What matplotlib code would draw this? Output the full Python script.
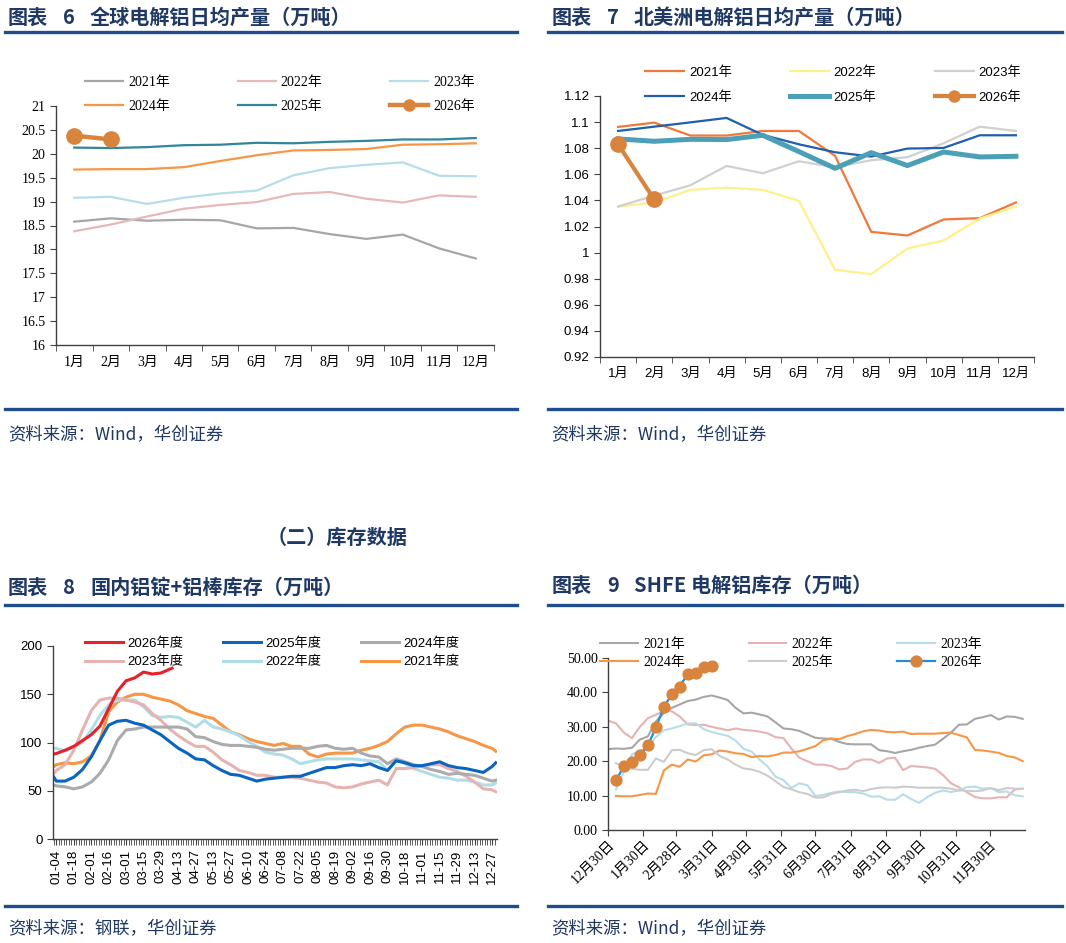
import matplotlib
matplotlib.use("Agg")
import matplotlib.pyplot as plt
from matplotlib.lines import Line2D
from matplotlib.ticker import FuncFormatter, FixedLocator
import numpy as np

# ---------------- data ----------------
months = ["1月", "2月", "3月", "4月", "5月", "6月", "7月", "8月", "9月", "10月", "11月", "12月"]

# Fig 6: global daily primary aluminium output (10k t)
g2021 = [18.58, 18.65, 18.60, 18.62, 18.61, 18.44, 18.45, 18.32, 18.22, 18.31, 18.02, 17.81]
g2022 = [18.38, 18.52, 18.69, 18.85, 18.93, 18.99, 19.16, 19.20, 19.06, 18.98, 19.13, 19.10]
g2023 = [19.08, 19.10, 18.95, 19.08, 19.17, 19.23, 19.55, 19.70, 19.77, 19.82, 19.54, 19.53]
g2024 = [19.67, 19.68, 19.68, 19.72, 19.85, 19.97, 20.07, 20.08, 20.10, 20.19, 20.20, 20.22]
g2025 = [20.13, 20.12, 20.14, 20.18, 20.19, 20.23, 20.22, 20.25, 20.27, 20.30, 20.30, 20.33]
g2026 = [20.38, 20.30]

# Fig 7: North America daily output (10k t)
n2021 = [1.0963, 1.0996, 1.0897, 1.0897, 1.0932, 1.0932, 1.0741, 1.0159, 1.0131, 1.0254, 1.0264, 1.0384]
n2022 = [1.0353, 1.0384, 1.0481, 1.0498, 1.0481, 1.0396, 0.9868, 0.9835, 1.0032, 1.0093, 1.0261, 1.0353]
n2023 = [1.0353, 1.0437, 1.0516, 1.0664, 1.0608, 1.0700, 1.0654, 1.0708, 1.0731, 1.0838, 1.0965, 1.0932]
n2024 = [1.0932, 1.0965, 1.0998, 1.1032, 1.0902, 1.0830, 1.0769, 1.0736, 1.0797, 1.0802, 1.0899, 1.0899]
n2025 = [1.0871, 1.0853, 1.0868, 1.0866, 1.0899, 1.0774, 1.0646, 1.0766, 1.0667, 1.0771, 1.0733, 1.0738]
n2026 = [1.0830, 1.0407]

# Fig 8: domestic ingot + billet inventory (10k t); x = days after 01-04
d8_labels = ["01-04", "01-18", "02-01", "02-16", "03-01", "03-15", "03-29", "04-13", "04-27",
             "05-13", "05-27", "06-10", "06-24", "07-08", "07-22", "08-05", "08-19", "09-02",
             "09-16", "09-30", "10-18", "11-01", "11-15", "11-29", "12-13", "12-27"]
d8_days = [-2] + list(range(0, 351, 7)) + [353]
d8_days_2026 = [-2] + list(range(0, 92, 7)) + [93]
i2026 = [88, 88.6, 92, 96, 102, 108, 117, 135, 153, 164, 167, 173, 171, 172, 176, 177]
i2025 = [64, 60, 60, 64, 72, 85, 102, 118, 122, 123, 120, 118,
         113, 108, 101, 94, 89, 83, 82, 76, 71, 67,
         66, 63, 60, 62, 63, 64, 65, 65, 68, 71,
         74, 74, 76, 77, 76, 78, 74, 71, 81, 79,
         76, 76, 78, 80, 76, 74, 73, 71, 69, 75, 79]
i2024 = [56, 55, 54, 52, 54, 59, 68, 82, 102, 113, 114, 116,
         116, 116, 116, 116, 114, 106, 105, 101, 98, 97,
         97, 96, 95, 93, 92, 93, 94, 94, 94, 96,
         97, 94, 93, 94, 89, 86, 85, 78, 83, 80,
         77, 75, 72, 70, 67, 68, 67, 66, 63, 60, 61]
i2023 = [68, 71, 77, 92, 113, 133, 144, 146, 146, 144, 142, 139,
         130, 123, 114, 107, 101, 96, 96, 90, 82, 77,
         71, 69, 66, 66, 64, 64, 64, 63, 61, 59,
         58, 54, 53, 54, 57, 59, 61, 56, 73, 73,
         74, 76, 77, 77, 73, 70, 65, 59, 52, 51, 49]
i2022 = [94, 94, 91, 96, 100, 113, 128, 139, 144, 144, 144, 137,
         128, 126, 127, 126, 121, 116, 123, 116, 114, 111,
         107, 101, 96, 90, 88, 87, 83, 78, 80, 82,
         83, 83, 83, 83, 82, 81, 80, 71, 82, 78,
         73, 70, 67, 64, 63, 61, 61, 59, 56, 56, 58]
i2021 = [75, 77, 79, 78, 80, 86, 102, 132, 142, 147, 150, 150,
         147, 145, 143, 139, 133, 130, 127, 125, 118, 111,
         108, 104, 101, 99, 97, 99, 96, 96, 88, 85,
         88, 89, 89, 89, 92, 94, 97, 101, 109, 116,
         118, 118, 116, 114, 111, 107, 104, 101, 97, 94, 91]

# Fig 9: SHFE aluminium inventory (10k t); x = days after 12-30 (weekly)
s9_labels = ["12月30日", "1月30日", "2月28日", "3月31日", "4月30日", "5月31日",
             "6月30日", "7月31日", "8月31日", "9月30日", "10月31日", "11月30日"]
s9_ticks = [0, 31, 60, 91, 121, 152, 182, 213, 244, 274, 305, 335]
s2021 = [23.5, 23.7, 23.6, 23.9, 26.3, 27.2, 31.5, 34.0, 35.5, 36.5,
         37.5, 37.9, 38.7, 39.1, 38.5, 37.8, 35.5, 33.9, 34.1, 33.6,
         33.0, 31.3, 29.5, 29.3, 28.8, 27.8, 26.8, 26.6, 26.5, 25.6,
         25.0, 24.9, 24.9, 24.9, 23.2, 22.9, 22.4, 22.9, 23.3, 23.9,
         24.4, 24.8, 26.5, 28.3, 30.6, 30.7, 32.3, 32.8, 33.4, 32.1,
         33.0, 32.9, 32.3]
s2022 = [31.8, 31.0, 28.3, 26.7, 30.0, 32.5, 33.5, 34.6, 34.5, 33.0,
         30.7, 30.5, 30.6, 30.0, 29.5, 29.0, 29.5, 29.1, 28.9, 28.6,
         28.1, 27.0, 26.7, 23.7, 21.0, 20.0, 19.0, 19.0, 18.6, 17.6,
         17.9, 19.8, 20.5, 20.5, 19.5, 20.8, 21.0, 17.4, 18.6, 18.4,
         18.2, 17.8, 16.0, 13.6, 12.4, 11.0, 9.6, 9.2, 9.2, 9.5,
         9.5, 11.8, 12.0]
s2023 = [11.8, 17.0, 22.0, 23.0, 24.0, 27.0, 29.0, 29.5, 30.2, 31.0,
         31.0, 29.3, 28.5, 27.9, 27.4, 26.0, 23.6, 22.8, 20.5, 18.5,
         15.5, 14.5, 12.2, 13.6, 13.0, 9.9, 10.2, 10.8, 11.2, 11.0,
         11.0, 10.6, 9.7, 9.8, 8.8, 8.8, 10.4, 9.0, 7.9, 9.5,
         10.8, 11.5, 11.0, 11.5, 12.5, 12.6, 12.0, 12.2, 11.0, 11.2,
         10.1, 9.8]
s2024 = [9.9, 9.8, 9.8, 10.2, 10.6, 10.5, 17.3, 19.0, 18.4, 20.5,
         19.9, 21.7, 22.0, 23.1, 22.8, 22.3, 22.1, 21.2, 21.5, 21.4,
         21.8, 22.5, 22.5, 22.9, 23.6, 24.4, 26.1, 26.6, 26.4, 27.3,
         27.9, 28.7, 29.1, 28.9, 28.5, 28.4, 28.6, 27.9, 28.0, 28.0,
         28.0, 28.2, 28.3, 27.6, 26.9, 23.3, 23.1, 22.8, 22.4, 21.5,
         21.1, 20.0]
s2025 = [19.4, 18.5, 17.8, 17.5, 17.5, 20.8, 19.8, 23.2, 23.3, 22.3,
         21.8, 23.2, 23.5, 21.5, 20.5, 19.0, 17.9, 17.6, 16.9, 15.8,
         14.2, 12.5, 11.8, 11.0, 10.5, 9.4, 9.5, 10.5, 11.0, 11.5,
         11.7, 11.3, 11.9, 12.3, 12.4, 12.3, 12.6, 12.5, 12.3, 12.3,
         12.3, 12.3, 12.0, 11.5, 11.4, 11.3, 11.5, 12.2, 11.6, 12.2,
         12.0, 12.0]
s2026 = [14.4, 18.6, 19.7, 21.8, 24.6, 29.8, 35.7, 39.5, 41.7, 45.4, 45.6, 47.3, 47.7]

# ---------------- figure ----------------
W, H = 1066, 943
fig = plt.figure(figsize=(W / 100, H / 100), dpi=100)
fig.patch.set_facecolor("white")

SERIF = ["Liberation Serif", "Noto Sans CJK SC"]
SANS = ["Liberation Sans", "Noto Sans CJK SC"]
CJK = ["Noto Sans CJK SC"]
NAVY = "#1f3864"
LINEC = "#1f4e8c"
SPINE = "#404040"


def ax_at(x0, y0, x1, y1):
    return fig.add_axes([x0 / W, 1 - y1 / H, (x1 - x0) / W, (y1 - y0) / H])


def hline(y, x0, x1):
    fig.add_artist(Line2D([x0 / W, x1 / W], [1 - y / H, 1 - y / H], color=LINEC, lw=2.4,
                          transform=fig.transFigure))


def style_axes(ax, family, fs):
    for s in ["top", "right"]:
        ax.spines[s].set_visible(False)
    for s in ["left", "bottom"]:
        ax.spines[s].set_color(SPINE)
        ax.spines[s].set_linewidth(1.0)
    ax.tick_params(axis="both", colors=SPINE, labelcolor="black", direction="out", labelsize=fs)
    for lab in ax.get_xticklabels() + ax.get_yticklabels():
        lab.set_family(family)


def legend_rowwise(ax, handles, labels, left, top, family, fs, hl, htp, cs, ls):
    order = [0, 3, 1, 4, 2, 5]
    h = [handles[i] for i in order]
    l = [labels[i] for i in order]
    fig.legend(h, l, loc="upper left", bbox_to_anchor=(left / W, 1 - top / H), ncol=3,
               frameon=False, borderpad=0, borderaxespad=0, handlelength=hl,
               handletextpad=htp, columnspacing=cs, labelspacing=ls,
               prop={"family": family, "size": fs})


gfmt = FuncFormatter(lambda v, p: "%g" % round(v, 4))

# ---------- Fig 6 ----------
ax6 = ax_at(56, 106, 494, 345)
x12 = np.arange(12)
c6 = ["#a6a6a6", "#e6b9b8", "#b7dde8", "#f79646", "#31859c"]
hs = []
for ys, c, lab in zip([g2021, g2022, g2023, g2024, g2025], c6, ["2021年", "2022年", "2023年", "2024年", "2025年"]):
    hs += ax6.plot(x12, ys, color=c, lw=1.6, label=lab)
hs += ax6.plot(x12[:len(g2026)], g2026, color="#d9843c", lw=3.2, marker="o", ms=11, label="2026年")
ax6.set_xlim(-0.5, 11.5)
ax6.set_ylim(16, 21)
ax6.set_yticks(np.arange(16, 21.01, 0.5))
ax6.yaxis.set_major_formatter(gfmt)
ax6.set_xticks(x12)
ax6.set_xticklabels(months)
ax6.xaxis.set_minor_locator(FixedLocator(np.arange(-0.5, 12, 1)))
ax6.tick_params(axis="x", which="major", length=0, pad=8)
ax6.tick_params(axis="x", which="minor", length=4, color=SPINE)
ax6.tick_params(axis="y", length=4)
style_axes(ax6, SERIF, 10)
legend_rowwise(ax6, hs, [h.get_label() for h in hs], 85, 76, SERIF, 10, 2.73, 0.36, 4.9, 0.78)
for h in fig.legends[-1].legend_handles:
    if h.get_marker() == "o":
        h.set_markersize(8)

# ---------- Fig 7 ----------
ax7 = ax_at(600, 96, 1034, 357)
c7 = ["#f07838", "#fff08a", "#d0d0d0", "#1f5fb0"]
hs = []
for ys, c, lab in zip([n2021, n2022, n2023, n2024], c7, ["2021年", "2022年", "2023年", "2024年"]):
    hs += ax7.plot(x12, ys, color=c, lw=1.6, label=lab)
hs += ax7.plot(x12, n2025, color="#4ba0b8", lw=3.6, label="2025年")
hs += ax7.plot(x12[:len(n2026)], n2026, color="#d9843c", lw=3.0, marker="o", ms=11, label="2026年")
ax7.set_xlim(-0.5, 11.5)
ax7.set_ylim(0.92, 1.12)
ax7.set_yticks(np.arange(0.92, 1.1201, 0.02))
ax7.yaxis.set_major_formatter(gfmt)
ax7.set_xticks(x12)
ax7.set_xticklabels(months)
ax7.xaxis.set_minor_locator(FixedLocator(np.arange(-0.5, 12, 1)))
ax7.tick_params(axis="x", which="major", length=0, pad=8)
ax7.tick_params(axis="x", which="minor", length=4, color=SPINE)
ax7.tick_params(axis="y", length=4)
style_axes(ax7, SANS, 9.5)
legend_rowwise(ax7, hs, [h.get_label() for h in hs], 645, 66, SANS, 9.5, 2.95, 0.38, 4.4, 0.95)
for h in fig.legends[-1].legend_handles:
    if h.get_marker() == "o":
        h.set_markersize(8)

# ---------- Fig 8 ----------
ax8 = ax_at(53, 646, 497, 839)
c8 = ["#e8202a", "#0a64c0", "#ababab", "#e6b3b3", "#b0dde8", "#f79646"]
labs8 = ["2026年度", "2025年度", "2024年度", "2023年度", "2022年度", "2021年度"]
series8 = [i2026, i2025, i2024, i2023, i2022, i2021]
lines8 = {}
for ys, c, lab in reversed(list(zip(series8, c8, labs8))):
    xs = d8_days_2026 if lab == "2026年度" else d8_days
    lines8[lab] = ax8.plot(xs, ys, color=c, lw=2.2, label=lab)[0]
h8 = [lines8[l] for l in labs8]
ax8.set_xlim(-2.7, 354)
ax8.set_ylim(0, 200)
ax8.set_yticks([0, 50, 100, 150, 200])
ax8.set_xticks(np.arange(0, 351, 14))
ax8.set_xticklabels(d8_labels, rotation=90)
ax8.xaxis.set_minor_locator(FixedLocator(np.arange(-2, 354, 2)))
ax8.tick_params(axis="x", which="both", length=4, color=SPINE)
ax8.tick_params(axis="y", length=4)
style_axes(ax8, SANS, 9.5)
legend_rowwise(ax8, h8, labs8, 85, 637, SANS, 9.5, 2.9, 0.3, 3.0, 0.45)

# ---------- Fig 9 ----------
ax9 = ax_at(608, 658, 1025, 830)
wk_all = [7 * i for i in range(53)]
wk_1 = [7 * i for i in range(1, 53)]
c9 = ["#a6a6a6", "#e6b3b3", "#b7dde8", "#f79646", "#cccccc"]
hs = []
for ys, c, lab in zip([s2021, s2022, s2023, s2024, s2025], c9, ["2021年", "2022年", "2023年", "2024年", "2025年"]):
    xs = wk_all if len(ys) == 53 else wk_1
    hs += ax9.plot(xs, ys, color=c, lw=1.5, label=lab)
hs += ax9.plot([7 * i for i in range(1, len(s2026) + 1)], s2026, color="#1e8fd8", lw=1.6,
               marker="o", ms=7.8, mfc="#d9843c", mec="#d9843c", label="2026年")
ax9.set_xlim(0, 366)
ax9.set_ylim(0, 50)
ax9.set_yticks(np.arange(0, 50.1, 10))
ax9.yaxis.set_major_formatter(FuncFormatter(lambda v, p: "%.2f" % v))
ax9.set_xticks(s9_ticks)
ax9.set_xticklabels(s9_labels, rotation=45, ha="right", rotation_mode="anchor")
ax9.tick_params(axis="x", length=4, pad=2)
ax9.tick_params(axis="y", length=4)
style_axes(ax9, SERIF, 10)
legend_rowwise(ax9, hs, [h.get_label() for h in hs], 600, 638, SERIF, 10, 2.73, 0.36, 4.6, 0.35)

# ---------------- titles, rules, notes ----------------
def ftext(x, y, s, **kw):
    fig.text(x / W, 1 - y / H, s, **kw)

tkw = dict(fontsize=14.5, weight="bold", color=NAVY, family=CJK, va="center", ha="left")
for (x0, y0, num, x1, rest) in [
        (8, 17, "6", 90, "全球电解铝日均产量（万吨）"),
        (552, 17, "7", 634, "北美洲电解铝日均产量（万吨）"),
        (8, 587, "8", 90, "国内铝锭+铝棒库存（万吨）"),
        (552, 585, "9", 634, "SHFE 电解铝库存（万吨）")]:
    ftext(x0, y0, "图表", **tkw)
    ftext(x0 + 55, y0, num, **tkw)
    ftext(x1, y0, rest, **tkw)
ftext(337, 537, "（二）库存数据", fontsize=14.5, weight="bold", color=NAVY, family=CJK,
      va="center", ha="center")

for y in (32, 409, 605, 906):
    hline(y, 5, 517)
    hline(y, 548, 1062)

skw = dict(fontsize=12.5, color=NAVY, family=CJK, va="center", ha="left", style="italic")
ftext(8, 435, "资料来源：Wind，华创证券", **skw)
ftext(551, 435, "资料来源：Wind，华创证券", **skw)
ftext(8, 929, "资料来源：钢联，华创证券", **skw)
ftext(551, 929, "资料来源：Wind，华创证券", **skw)

fig.savefig("out.png", dpi=100, facecolor="white")
